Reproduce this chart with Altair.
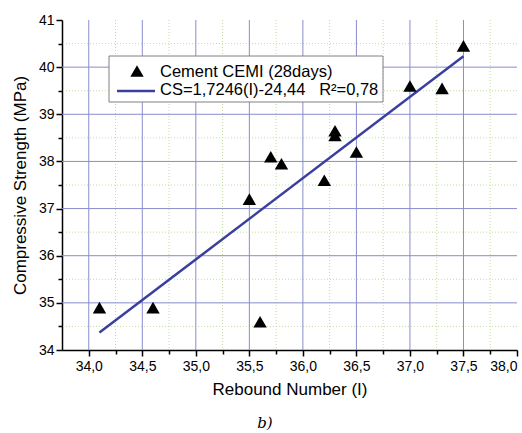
import altair as alt
import pandas as pd

# Data
rebound = [34.1, 34.6, 35.5, 35.6, 35.7, 35.8, 36.2, 36.3, 36.3, 36.5, 37.0, 37.3, 37.5]
strength = [34.9, 34.9, 37.2, 34.6, 38.1, 37.95, 37.6, 38.65, 38.55, 38.2, 39.6, 39.55, 40.45]
fit_x = [34.1, 37.5]
fit_y = [34.37, 40.23]

s_pts = "Cement CEMI (28days)"
s_fit = "CS=1,7246(I)-24,44\u00a0\u00a0\u00a0R\u00b2=0,78"

x_ticks = [34.0, 34.25, 34.5, 34.75, 35.0, 35.25, 35.5, 35.75, 36.0, 36.25,
           36.5, 36.75, 37.0, 37.25, 37.5, 37.75, 38.0]
y_ticks = [34, 34.5, 35, 35.5, 36, 36.5, 37, 37.5, 38, 38.5, 39, 39.5, 40, 40.5, 41]

x_major_grid = [34.0, 34.5, 35.0, 35.5, 36.0, 36.5, 37.0, 37.5]
x_minor_grid = [34.25, 34.75, 35.25, 35.75, 36.25, 36.75, 37.25, 37.75]
y_major_grid = [35, 36, 37, 38, 39, 40]
y_minor_grid = [34.5, 35.5, 36.5, 37.5, 38.5, 39.5, 40.5]

pts = pd.DataFrame({"x": rebound, "y": strength})
fit = pd.DataFrame({"x": fit_x, "y": fit_y})

FONT = "Liberation Sans"
MAJOR_GRID = "#8a8ccc"
MINOR_GRID = "#c2dd9e"
LINE_BLUE = "#3a3f9e"
TRI_SIZE = 180

xscale = alt.Scale(domain=[33.75, 38.0], nice=False, zero=False)
yscale = alt.Scale(domain=[34, 41], nice=False, zero=False)

xaxis = alt.Axis(
    values=x_ticks,
    grid=False,
    title="Rebound Number (I)",
    labelExpr="datum.value % 0.5 == 0 ? replace(format(datum.value, '.1f'), '.', ',') : ''",
    tickSize={"condition": {"test": "datum.value % 0.5 == 0", "value": 6}, "value": 4},
    labelPadding=3,
    titlePadding=8,
)
yaxis = alt.Axis(
    values=y_ticks,
    grid=False,
    title="Compressive Strength (MPa)",
    labelExpr="datum.value % 1 == 0 ? format(datum.value, 'd') : ''",
    tickSize={"condition": {"test": "datum.value % 1 == 0", "value": 6}, "value": 4},
    labelPadding=2,
    titlePadding=9,
)

X = lambda f: alt.X(f, scale=xscale, axis=xaxis)
Y = lambda f: alt.Y(f, scale=yscale, axis=yaxis)

# Grid lines drawn from the tick arrays
gx_major = alt.Chart(pd.DataFrame({"v": x_major_grid})).mark_rule(
    color=MAJOR_GRID, strokeWidth=1).encode(x=X("v:Q"))
gx_minor = alt.Chart(pd.DataFrame({"v": x_minor_grid})).mark_rule(
    color=MINOR_GRID, strokeWidth=1, strokeDash=[1, 2]).encode(x=X("v:Q"))
gy_major = alt.Chart(pd.DataFrame({"v": y_major_grid})).mark_rule(
    color=MAJOR_GRID, strokeWidth=1).encode(y=Y("v:Q"))
gy_minor = alt.Chart(pd.DataFrame({"v": y_minor_grid})).mark_rule(
    color=MINOR_GRID, strokeWidth=1, strokeDash=[1, 2]).encode(y=Y("v:Q"))

points = alt.Chart(pts).mark_point(
    filled=True, size=TRI_SIZE, opacity=1, shape="triangle-up", color="black"
).encode(x=X("x:Q"), y=Y("y:Q"))

line = alt.Chart(fit).mark_line(strokeWidth=2.5, color=LINE_BLUE).encode(
    x=X("x:Q"), y=Y("y:Q"))

# Legend box built from marks
leg_df = pd.DataFrame({"label": [s_pts, s_fit]})
leg_box = alt.Chart(leg_df.head(1)).mark_rect(
    fill="white", stroke="#808080", strokeWidth=1
).encode(x=alt.value(47), x2=alt.value(321), y=alt.value(36), y2=alt.value(82))
leg_tri = alt.Chart(leg_df.head(1)).mark_point(
    filled=True, size=TRI_SIZE, opacity=1, shape="triangle-up", color="black"
).encode(x=alt.value(75), y=alt.value(51))
leg_line = alt.Chart(leg_df.tail(1)).mark_rule(
    color=LINE_BLUE, strokeWidth=2.5
).encode(x=alt.value(55), x2=alt.value(93), y=alt.value(71))
leg_txt1 = alt.Chart(leg_df.head(1)).mark_text(
    font=FONT, fontSize=16.5, color="black", align="left", baseline="middle"
).encode(text="label:N", x=alt.value(98), y=alt.value(52))
leg_txt2 = alt.Chart(leg_df.tail(1)).mark_text(
    font=FONT, fontSize=16.5, color="black", align="left", baseline="middle"
).encode(text="label:N", x=alt.value(98), y=alt.value(70))

caption = alt.Chart(pd.DataFrame({"t": ["b)"]})).mark_text(
    font="DejaVu Serif", fontStyle="italic", fontSize=15, color="black",
    align="center", baseline="middle"
).encode(text="t:N", x=alt.value(203), y=alt.value(403))

chart = alt.layer(
    gx_minor, gy_minor, gx_major, gy_major, line, points,
    leg_box, leg_tri, leg_line, leg_txt1, leg_txt2, caption
).properties(
    width=455,
    height=330,
    autosize=alt.AutoSizeParams(type="none"),
    padding={"left": 62, "top": 20, "right": 5, "bottom": 83},
).configure_view(stroke=None).configure_axis(
    labelFont=FONT,
    titleFont=FONT,
    labelFontSize=14,
    titleFontSize=17,
    titleFontWeight="normal",
    labelColor="black",
    titleColor="black",
    domainColor="black",
    domainWidth=1.5,
    tickColor="black",
    tickWidth=1.5,
)

chart.save("out.html", embed_options={"renderer": "svg", "actions": False})
